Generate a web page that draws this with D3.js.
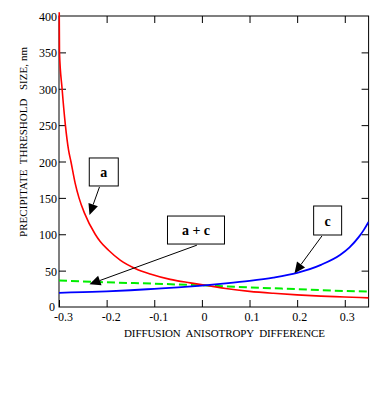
<!DOCTYPE html>
<html><head><meta charset="utf-8">
<script src="https://cdn.jsdelivr.net/npm/d3@7"></script>
<style>html,body{margin:0;padding:0;background:#fff;}svg{display:block;}</style>
</head><body>
<script>
// ---- data ----
const xTicks = [-0.3, -0.2, -0.1, 0, 0.1, 0.2, 0.3];
const yTicks = [0, 50, 100, 150, 200, 250, 300, 350, 400];
const redX = [-0.2995, -0.299, -0.2935, -0.2866, -0.280, -0.275, -0.266, -0.258, -0.2465, -0.224, -0.2135, -0.196, -0.1716, -0.14, -0.1085, -0.0666, -0.0246, 0.0174, 0.05, 0.1, 0.15, 0.2, 0.25, 0.3, 0.35];
const redY = [405, 350, 300, 250, 216, 200, 170, 150, 129, 100, 90, 78, 64.5, 53, 45.4, 38, 33.2, 28.9, 25.5, 21.5, 18.8, 16.7, 15, 13.8, 12.5];
const blueX = [-0.3, -0.25, -0.2, -0.15, -0.1, -0.05, 0, 0.05, 0.1, 0.15, 0.2, 0.25, 0.29, 0.31, 0.33, 0.34, 0.35];
const blueY = [19.5, 20.5, 21.5, 23, 25, 27, 29.5, 32.5, 36, 40.5, 47, 58, 71.5, 82, 96.7, 106, 117];
const greenX = [-0.3, -0.2, -0.1, 0, 0.1, 0.2, 0.3, 0.35];
const greenY = [36.5, 34, 32, 29.8, 27, 24.5, 22, 21.2];
const annoLabels = ["a", "a + c", "c"];
const annoBox = [[-0.206, 185.6], [-0.0124, 105.8], [0.264, 118.9]];
const annoFrom = [[-0.215, 165], [-0.0105, 85], [0.252, 97.6]];
const annoTip = [[-0.236, 126.5], [-0.236, 31.2], [0.1945, 46.3]];
const annoSize = [[29, 28], [57, 28], [28, 29]];
const xTitle = "DIFFUSION  ANISOTROPY  DIFFERENCE";
const yTitle = "PRECIPITATE  THRESHOLD   SIZE, nm";

(function () {
const W = 392, H = 393;
const L = 59, R = 368.6, T = 16, B = 307;
const svg = d3.select("body").append("svg").attr("width", W).attr("height", H);
const x = d3.scaleLinear().domain([-0.3, 0.35]).range([L, R]);
const y = d3.scaleLinear().domain([0, 400]).range([B, T]);
const font = "'Liberation Serif','Times New Roman',serif";

svg.append("clipPath").attr("id", "clip").append("rect")
  .attr("x", L - 3).attr("y", T - 4).attr("width", R - L + 3).attr("height", B - T + 4);

svg.append("rect").attr("x", L).attr("y", T).attr("width", R - L).attr("height", B - T)
  .attr("fill", "none").attr("stroke", "#000").attr("stroke-width", 1);

const gBottom = svg.append("g").attr("transform", `translate(0,${B})`)
  .call(d3.axisBottom(x).tickValues(xTicks).tickSize(-7).tickPadding(14).tickFormat(d => d === 0 ? "0" : String(d)));
const gTop = svg.append("g").attr("transform", `translate(0,${T})`)
  .call(d3.axisTop(x).tickValues(xTicks.slice(1)).tickSize(-7).tickFormat(""));
const gLeft = svg.append("g").attr("transform", `translate(${L},0)`)
  .call(d3.axisLeft(y).tickValues(yTicks.slice(1, -1)).tickSize(-7).tickFormat(""));
const gRight = svg.append("g").attr("transform", `translate(${R},0)`)
  .call(d3.axisRight(y).tickValues(yTicks.slice(1, -1)).tickSize(-7).tickFormat(""));
[gBottom, gTop, gLeft, gRight].forEach(g => {
  g.select(".domain").remove();
  g.selectAll("line").attr("stroke", "#000");
  g.selectAll("text").attr("font-family", font).attr("font-size", 12).attr("fill", "#000");
});
gBottom.selectAll("text").attr("dy", "0em").attr("dx", d => d < 0 ? 4 : 2);
svg.append("g").selectAll("text").data(yTicks).join("text")
  .attr("x", d => d === 0 ? 55 : 57).attr("y", d => d === 0 ? y(d) + 4 : y(d) + 5)
  .attr("text-anchor", "end").attr("font-family", font).attr("font-size", 12)
  .text(d => d);

svg.append("text").attr("x", 224.5).attr("y", 337).attr("text-anchor", "middle")
  .attr("font-family", font).attr("font-size", 11).attr("textLength", 201)
  .attr("lengthAdjust", "spacing").style("white-space", "pre").text(xTitle);
svg.append("text").attr("transform", "translate(27,142) rotate(-90)").attr("text-anchor", "middle")
  .attr("font-family", font).attr("font-size", 11).attr("textLength", 190)
  .attr("lengthAdjust", "spacing").style("white-space", "pre").text(yTitle);

const plot = svg.append("g").attr("clip-path", "url(#clip)");
const line = d3.line().x(d => x(d[0])).y(d => y(d[1])).curve(d3.curveMonotoneX);
plot.append("path").datum(greenX.map((v, i) => [v, greenY[i]])).attr("d", line)
  .attr("fill", "none").attr("stroke", "#00ee00").attr("stroke-width", 2).attr("stroke-dasharray", "8,4");
plot.append("path").datum(redX.map((v, i) => [v, redY[i]])).attr("d", line)
  .attr("fill", "none").attr("stroke", "#ff0000").attr("stroke-width", 1.6);
plot.append("path").datum(blueX.map((v, i) => [v, blueY[i]])).attr("d", line)
  .attr("fill", "none").attr("stroke", "#0000ff").attr("stroke-width", 1.8);

annoLabels.forEach((lab, i) => {
  const cx = x(annoBox[i][0]), cy = y(annoBox[i][1]);
  const [w, h] = annoSize[i];
  const x1 = x(annoFrom[i][0]), y1 = y(annoFrom[i][1]);
  const x2 = x(annoTip[i][0]), y2 = y(annoTip[i][1]);
  const ang = Math.atan2(y2 - y1, x2 - x1);
  const len = 11, hw = 5;
  const bx = x2 - len * Math.cos(ang), by = y2 - len * Math.sin(ang);
  const px = -Math.sin(ang) * hw, py = Math.cos(ang) * hw;
  svg.append("line").attr("x1", x1).attr("y1", y1).attr("x2", bx).attr("y2", by)
    .attr("stroke", "#000").attr("stroke-width", 1);
  svg.append("polygon").attr("points", `${x2},${y2} ${bx + px},${by + py} ${bx - px},${by - py}`)
    .attr("fill", "#000");
  svg.append("rect").attr("x", cx - w / 2).attr("y", cy - h / 2).attr("width", w).attr("height", h)
    .attr("fill", "#fff").attr("stroke", "#000").attr("stroke-width", 1);
  svg.append("text").attr("x", cx).attr("y", cy + 5).attr("text-anchor", "middle")
    .attr("font-family", font).attr("font-size", 14).attr("font-weight", "bold")
    .style("white-space", "pre").text(lab);
});
})();
</script>
</body></html>
